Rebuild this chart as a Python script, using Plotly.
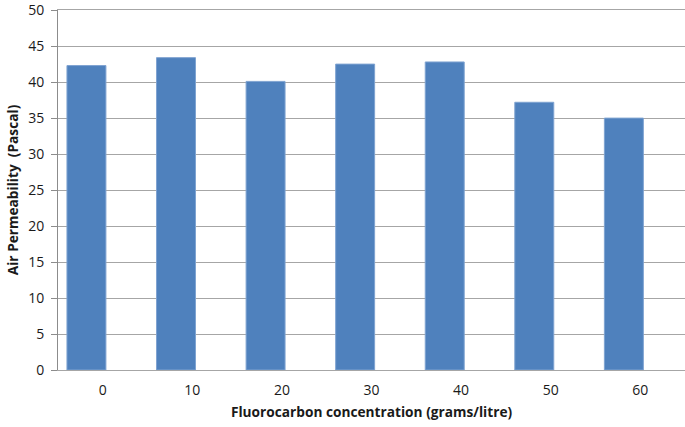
import plotly.graph_objects as go

# fluorocarbon concentration (grams/litre)
concentration = ["0", "10", "20", "30", "40", "50", "60"]
# air permeability (Pascal)
permeability = [42.3, 43.4, 40.1, 42.5, 42.8, 37.2, 35.0]

y_ticks = [0, 5, 10, 15, 20, 25, 30, 35, 40, 45, 50]

fig = go.Figure()
# bars sit a little left of their category labels, as in the source image
fig.add_trace(go.Bar(x=concentration, y=permeability, width=0.435, offset=-0.40,
                     marker=dict(color="#4F81BD", line=dict(color="#7FA3D1", width=1))))

font_family = "Open Sans, Noto Sans, sans-serif"
fig.update_layout(
    width=685, height=427,
    margin=dict(l=58, r=0, t=10, b=57),
    plot_bgcolor="white", paper_bgcolor="white",
    showlegend=False,
    font=dict(family=font_family, size=14, color="#1a1a1a"),
)
fig.update_xaxes(
    type="category", range=[-0.5, 6.5],
    showline=True, linecolor="#a6a6a6", linewidth=1, mirror=True,
    showgrid=False, ticks="", ticklabelstandoff=7,
    tickfont=dict(size=14),
    title=dict(text="<b>Fluorocarbon concentration (grams/litre)</b>", font=dict(size=13.7), standoff=9),
)
fig.update_yaxes(
    range=[0, 50.02], tickvals=y_ticks,
    showline=True, linecolor="#8c8c8c", linewidth=1,
    showgrid=True, gridcolor="#a6a6a6", gridwidth=1,
    ticks="outside", ticklen=6, tickcolor="#8c8c8c",
    ticklabelstandoff=4,
    tickfont=dict(size=14),
    title=dict(text="<b>Air Permeability  (Pascal)</b>", font=dict(size=13.7), standoff=6),
    zeroline=False,
)

# drop the default page margin so the figure sits at the top-left corner
fig.write_html("out.html", config={"displayModeBar": False},
               post_script="document.body.style.margin = '0';")
